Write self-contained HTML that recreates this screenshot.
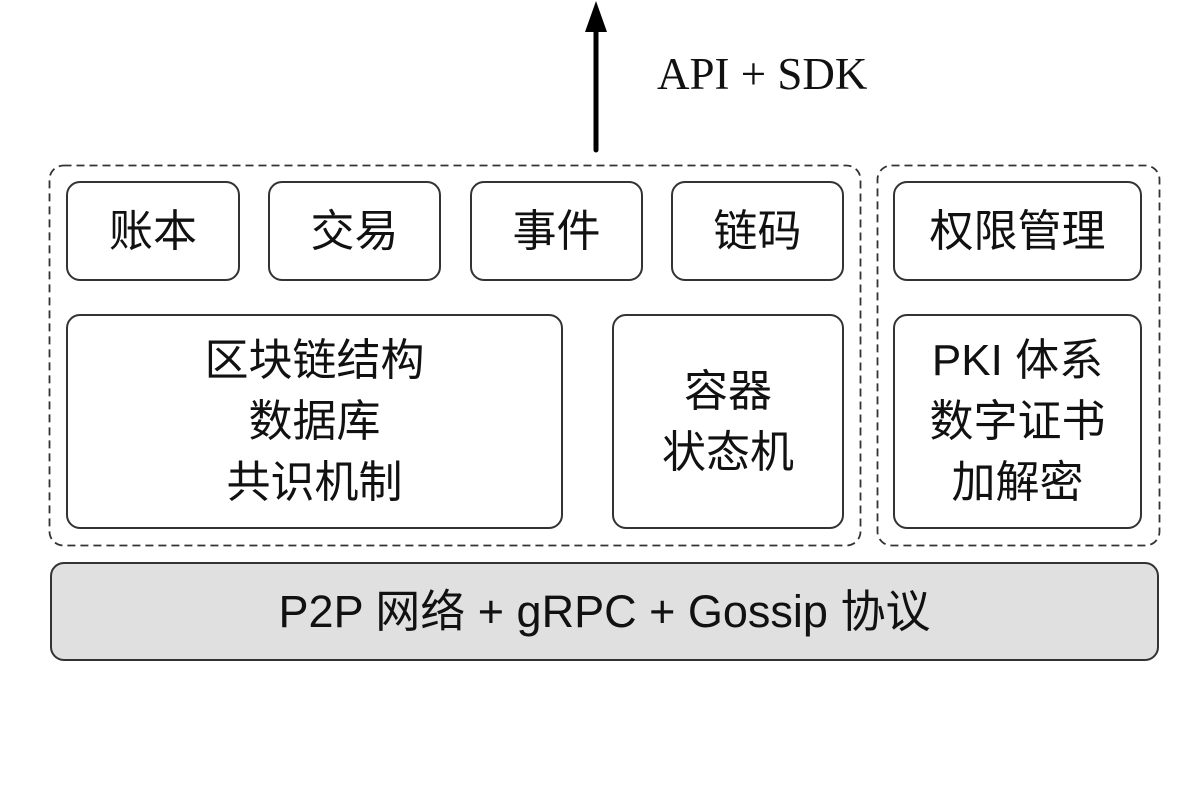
<!DOCTYPE html>
<html><head><meta charset="utf-8"><style>
body{margin:0;width:1191px;height:793px;background:#fff;overflow:hidden;position:relative;font-family:"Liberation Sans","Noto Sans CJK SC",sans-serif;color:#111}
.b{position:absolute;border:2px solid #333;border-radius:14px;box-sizing:border-box;display:flex;align-items:center;justify-content:center;text-align:center;font-size:44px;line-height:61px;background:#fff}
</style></head><body>
<svg style="position:absolute;left:0;top:0" width="1191" height="793">
<line x1="596" y1="150" x2="596" y2="28" stroke="#000" stroke-width="5" stroke-linecap="round"/>
<polygon points="596,1 585,32 607,32" fill="#000"/>
<text x="657" y="89" font-family="Liberation Serif,serif" font-size="45" fill="#111">API + SDK</text>
<rect x="49.5" y="165.5" width="811" height="380" rx="14" fill="none" stroke="#333" stroke-width="1.8" stroke-dasharray="8,5"/>
<rect x="877.5" y="165.5" width="282" height="380" rx="14" fill="none" stroke="#333" stroke-width="1.8" stroke-dasharray="8,5"/>
</svg>
<div class="b" style="left:66px;top:181px;width:174px;height:100px">账本</div>
<div class="b" style="left:268px;top:181px;width:173px;height:100px">交易</div>
<div class="b" style="left:470px;top:181px;width:173px;height:100px">事件</div>
<div class="b" style="left:671px;top:181px;width:173px;height:100px">链码</div>
<div class="b" style="left:893px;top:181px;width:249px;height:100px">权限管理</div>
<div class="b" style="left:66px;top:314px;width:497px;height:215px">区块链结构<br>数据库<br>共识机制</div>
<div class="b" style="left:612px;top:314px;width:232px;height:215px">容器<br>状态机</div>
<div class="b" style="left:893px;top:314px;width:249px;height:215px">PKI 体系<br>数字证书<br>加解密</div>
<div class="b" style="left:50px;top:562px;width:1109px;height:99px;background:#e0e0e0;font-size:45px">P2P 网络 + gRPC + Gossip 协议</div>
</body></html>
